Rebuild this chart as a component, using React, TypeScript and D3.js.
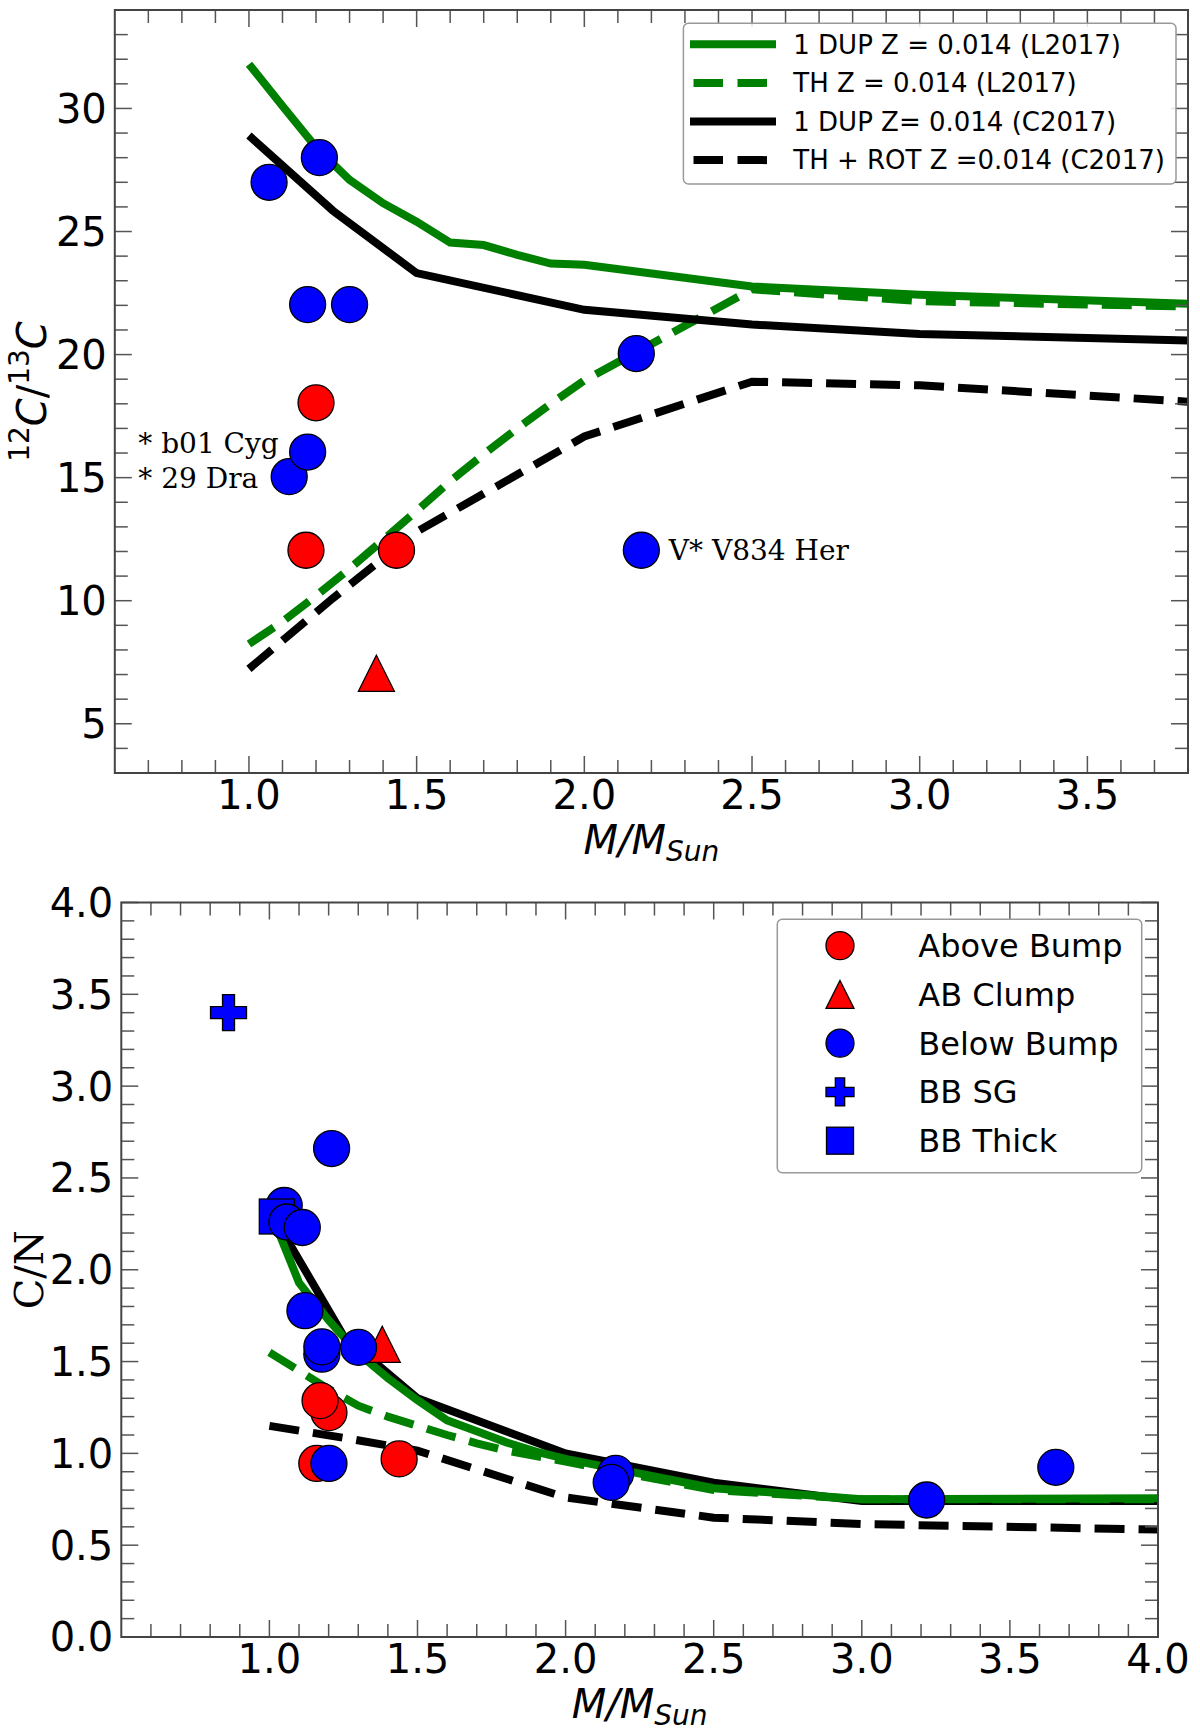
import React from 'react';
import * as d3 from 'd3';

// ---- model tracks (mass grid + values)
const l17Mass = [1.0, 1.1, 1.2, 1.3, 1.4, 1.5, 1.6, 1.7, 1.8, 1.9, 2.0, 2.5, 3.0, 4.0];
const l17DupRatio = [31.8, 30.1, 28.42, 27.1, 26.15, 25.4, 24.55, 24.45, 24.05, 23.7, 23.65, 22.77, 22.43, 21.98];
const l17ThRatio = [8.24, 9.15, 10.2, 11.3, 12.47, 13.65, 14.85, 15.95, 17.0, 18.0, 18.95, 22.65, 22.17, 21.9];
const l17DupCN = [2.33, 1.93, 1.725, 1.545, 1.41, 1.29, 1.18, 1.12, 1.06, 1.01, 0.97, 0.81, 0.75, 0.755];
const l17ThCN = [1.55, 1.45, 1.35, 1.26, 1.2, 1.15, 1.1, 1.055, 1.015, 0.985, 0.955, 0.8, 0.75, 0.75];

const c17Mass = [1.0, 1.25, 1.5, 2.0, 2.5, 3.0, 4.0];
const c17DupRatio = [28.9, 25.85, 23.31, 21.82, 21.22, 20.84, 20.5];
const c17RotRatio = [7.23, 10.1, 12.8, 16.67, 18.9, 18.75, 17.92];
const c17DupCN = [2.33, 1.64, 1.3, 1.0, 0.84, 0.74, 0.74];
const c17RotCN = [1.15, 1.085, 1.015, 0.76, 0.65, 0.615, 0.585];

const trackLabels = [
  '1 DUP Z = 0.014 (L2017)',
  'TH Z = 0.014 (L2017)',
  '1 DUP Z= 0.014 (C2017)',
  'TH + ROT Z =0.014 (C2017)',
];

// ---- stars, top panel: [mass, 12C/13C]
const topAboveBump: [number, number][] = [[1.2, 18.04], [1.17, 12.05], [1.44, 12.05]];
const topClump: [number, number][] = [[1.38, 7.05]];
const topBelowBump: [number, number][] = [
  [1.06, 27.0], [1.21, 28.0], [1.175, 22.03], [1.3, 22.03],
  [2.155, 20.04], [1.12, 15.04], [1.175, 16.04], [2.17, 12.05],
];
const topNotes = [
  { text: '* b01 Cyg', m: 0.67, v: 16.0 },
  { text: '* 29 Dra', m: 0.67, v: 14.56 },
  { text: 'V* V834 Her', m: 2.252, v: 11.66 },
];

// ---- stars, bottom panel: [mass, C/N]
const botAboveBump: [number, number][] = [[1.201, 1.222], [1.171, 1.287], [1.16, 0.945], [1.438, 0.97]];
const botClump: [number, number][] = [[1.381, 1.594]];
const botBelowBump: [number, number][] = [
  [1.05, 2.35], [1.059, 2.26], [1.111, 2.23], [1.12, 1.777], [1.177, 1.54], [1.177, 1.58],
  [1.301, 1.577], [1.21, 2.66], [1.201, 0.945], [2.169, 0.891], [2.154, 0.842],
  [3.219, 0.746], [3.655, 0.924],
];
const botSG: [number, number][] = [[0.862, 3.4]];
const botThick: [number, number][] = [[1.025, 2.29]];

const groupLabels = ['Above Bump', 'AB Clump', 'Below Bump', 'BB SG', 'BB Thick'];

const topXTicks = [1.0, 1.5, 2.0, 2.5, 3.0, 3.5];
const topYTicks = [5, 10, 15, 20, 25, 30];
const botXTicks = [1.0, 1.5, 2.0, 2.5, 3.0, 3.5, 4.0];
const botYTicks = [0, 0.5, 1.0, 1.5, 2.0, 2.5, 3.0, 3.5, 4.0];

const GREEN = '#008000';
const RED = '#ff0000';
const BLUE = '#0000ff';
const SANS = '"DejaVu Sans", sans-serif';
const SERIF = '"DejaVu Serif", serif';

type Kind = 'circle' | 'triangle' | 'plus' | 'square';

const Marker: React.FC<{ kind: Kind; x: number; y: number; s: number; fill: string }> = ({ kind, x, y, s, fill }) => {
  const h = s / 2;
  const common = { fill, stroke: '#000', strokeWidth: 1.3 };
  if (kind === 'circle') return <circle cx={x} cy={y} r={h} {...common} />;
  if (kind === 'square') return <rect x={x - h} y={y - h} width={s} height={s} {...common} />;
  if (kind === 'triangle')
    return <path d={`M${x},${y - h}L${x + h},${y + h}L${x - h},${y + h}Z`} {...common} />;
  const b = s / 6;
  return (
    <path
      d={`M${x - b},${y - h}H${x + b}V${y - b}H${x + h}V${y + b}H${x + b}V${y + h}H${x - b}V${y + b}H${x - h}V${y - b}H${x - b}Z`}
      {...common}
    />
  );
};

interface Frame {
  left: number;
  right: number;
  top: number;
  bottom: number;
}

const Axes: React.FC<{
  f: Frame;
  x: d3.ScaleLinear<number, number>;
  y: d3.ScaleLinear<number, number>;
  xMajor: number[];
  yMajor: number[];
  xMinor: number[];
  yMinor: number[];
  xFmt: (v: number) => string;
  yFmt: (v: number) => string;
}> = ({ f, x, y, xMajor, yMajor, xMinor, yMinor, xFmt, yFmt }) => {
  const tk = { stroke: '#555', strokeWidth: 1.5 };
  const maj = 17;
  const min = 13;
  return (
    <g>
      {[...xMajor.map(v => [v, maj]), ...xMinor.map(v => [v, min])].map(([v, l], i) => (
        <g key={'x' + i}>
          <line x1={x(v)} x2={x(v)} y1={f.bottom} y2={f.bottom - l} {...tk} />
          <line x1={x(v)} x2={x(v)} y1={f.top} y2={f.top + l} {...tk} />
        </g>
      ))}
      {[...yMajor.map(v => [v, maj]), ...yMinor.map(v => [v, min])].map(([v, l], i) => (
        <g key={'y' + i}>
          <line y1={y(v)} y2={y(v)} x1={f.left} x2={f.left + l} {...tk} />
          <line y1={y(v)} y2={y(v)} x1={f.right} x2={f.right - l} {...tk} />
        </g>
      ))}
      <rect x={f.left} y={f.top} width={f.right - f.left} height={f.bottom - f.top} fill="none" stroke="#444" strokeWidth={2} />
      {xMajor.map(v => (
        <text key={'xl' + v} x={x(v)} y={f.bottom + 36} textAnchor="middle" fontSize={40} fontFamily={SANS}>
          {xFmt(v)}
        </text>
      ))}
      {yMajor.map(v => (
        <text key={'yl' + v} x={f.left - 8} y={y(v)} dy="0.36em" textAnchor="end" fontSize={40} fontFamily={SANS}>
          {yFmt(v)}
        </text>
      ))}
      <text x={(f.left + f.right) / 2} y={f.bottom + 81} textAnchor="middle" fontFamily={SANS} fontStyle="italic" fontSize={40}>
        M/M<tspan fontSize={28} dy={7}>Sun</tspan>
      </text>
    </g>
  );
};

const minorRange = (lo: number, hi: number, step: number, major: number[]) =>
  d3
    .range(Math.round(lo / step), Math.round(hi / step) + 1)
    .map(k => +(k * step).toFixed(3))
    .filter(v => !major.some(m => Math.abs(m - v) < 1e-6));

const App: React.FC = () => {
  // ---------- top panel
  const ft: Frame = { left: 114.8, right: 1188, top: 10, bottom: 773 };
  const xt = d3.scaleLinear().domain([0.6, 3.8]).range([ft.left, ft.right]);
  const yt = d3.scaleLinear().domain([3, 34]).range([ft.bottom, ft.top]);

  // ---------- bottom panel
  const fb: Frame = { left: 121.3, right: 1158, top: 902.5, bottom: 1637 };
  const xb = d3.scaleLinear().domain([0.5, 4.0]).range([fb.left, fb.right]);
  const yb = d3.scaleLinear().domain([0, 4]).range([fb.bottom, fb.top]);

  const lineT = (xs: number[], ys: number[]) =>
    d3.line<number>().x((_, i) => xt(xs[i])).y(v => yt(v))(ys) || '';
  const lineB = (xs: number[], ys: number[]) =>
    d3.line<number>().x((_, i) => xb(xs[i])).y(v => yb(v))(ys) || '';

  const lw = 8;
  const dash = '30 14';

  const topTracks = [
    { d: lineT(l17Mass, l17DupRatio), color: GREEN, dash: undefined },
    { d: lineT(l17Mass, l17ThRatio), color: GREEN, dash },
    { d: lineT(c17Mass, c17DupRatio), color: '#000', dash: undefined },
    { d: lineT(c17Mass, c17RotRatio), color: '#000', dash },
  ];
  const botTracks = [
    { d: lineB(c17Mass, c17DupCN), color: '#000', dash: undefined },
    { d: lineB(c17Mass, c17RotCN), color: '#000', dash },
    { d: lineB(l17Mass, l17DupCN), color: GREEN, dash: undefined },
    { d: lineB(l17Mass, l17ThCN), color: GREEN, dash },
  ];

  const S = 36;
  const legendKinds: { kind: Kind; color: string }[] = [
    { kind: 'circle', color: RED },
    { kind: 'triangle', color: RED },
    { kind: 'circle', color: BLUE },
    { kind: 'plus', color: BLUE },
    { kind: 'square', color: BLUE },
  ];
  const legendTrackStyle = [
    { color: GREEN, dash: false },
    { color: GREEN, dash: true },
    { color: '#000', dash: false },
    { color: '#000', dash: true },
  ];

  return (
    <svg width={1200} height={1735} style={{ position: 'absolute', left: 0, top: 0, background: '#fff' }}>
      <defs>
        <clipPath id="clipTop">
          <rect x={ft.left} y={ft.top} width={ft.right - ft.left} height={ft.bottom - ft.top} />
        </clipPath>
        <clipPath id="clipBot">
          <rect x={fb.left} y={fb.top} width={fb.right - fb.left} height={fb.bottom - fb.top} />
        </clipPath>
      </defs>

      {/* ===== top panel ===== */}
      <g clipPath="url(#clipTop)">
        {topTracks.map((t, i) => (
          <path key={i} d={t.d} fill="none" stroke={t.color} strokeWidth={lw} strokeDasharray={t.dash} />
        ))}
      </g>
      <Axes
        f={ft}
        x={xt}
        y={yt}
        xMajor={topXTicks}
        yMajor={topYTicks}
        xMinor={minorRange(0.7, 3.7, 0.1, topXTicks)}
        yMinor={minorRange(4, 33, 1, topYTicks)}
        xFmt={d3.format('.1f')}
        yFmt={d3.format('d')}
      />
      {topAboveBump.map(([m, v], i) => <Marker key={'ta' + i} kind="circle" x={xt(m)} y={yt(v)} s={S} fill={RED} />)}
      {topClump.map(([m, v], i) => <Marker key={'tc' + i} kind="triangle" x={xt(m)} y={yt(v)} s={S} fill={RED} />)}
      {topBelowBump.map(([m, v], i) => <Marker key={'tb' + i} kind="circle" x={xt(m)} y={yt(v)} s={S} fill={BLUE} />)}
      {topNotes.map(n => (
        <text key={n.text} x={xt(n.m)} y={yt(n.v)} fontFamily={SERIF} fontSize={28}>
          {n.text}
        </text>
      ))}
      <text transform={`translate(46,${(ft.top + ft.bottom) / 2}) rotate(-90)`} textAnchor="middle" fontFamily={SANS} fontSize={40}>
        <tspan fontSize={28} dy={-17}>12</tspan>
        <tspan fontStyle="italic" dy={17}>C</tspan>
        <tspan>/</tspan>
        <tspan fontSize={28} dy={-17}>13</tspan>
        <tspan fontStyle="italic" dy={17}>C</tspan>
      </text>

      {/* top legend */}
      <g>
        <rect x={683.4} y={23.3} width={492.6} height={160.7} rx={5} fill="#fff" fillOpacity={0.85} stroke="#999" strokeWidth={1.5} />
        {trackLabels.map((lab, i) => {
          const cy = 44.3 + i * 38.6;
          const st = legendTrackStyle[i];
          return (
            <g key={lab}>
              <line
                x1={st.dash ? 693.5 : 690}
                x2={st.dash ? 767 : 776}
                y1={cy}
                y2={cy}
                stroke={st.color}
                strokeWidth={lw}
                strokeDasharray={st.dash ? '29.5 14.5' : undefined}
              />
              <text x={793.3} y={cy + 9.3} fontFamily={SANS} fontSize={26}>
                {lab}
              </text>
            </g>
          );
        })}
      </g>

      {/* ===== bottom panel ===== */}
      <g clipPath="url(#clipBot)">
        {botTracks.map((t, i) => (
          <path key={i} d={t.d} fill="none" stroke={t.color} strokeWidth={lw} strokeDasharray={t.dash} />
        ))}
      </g>
      <Axes
        f={fb}
        x={xb}
        y={yb}
        xMajor={botXTicks}
        yMajor={botYTicks}
        xMinor={minorRange(0.6, 3.9, 0.1, botXTicks)}
        yMinor={minorRange(0.1, 3.9, 0.1, botYTicks)}
        xFmt={d3.format('.1f')}
        yFmt={d3.format('.1f')}
      />
      {botAboveBump.map(([m, v], i) => <Marker key={'ba' + i} kind="circle" x={xb(m)} y={yb(v)} s={S} fill={RED} />)}
      {botClump.map(([m, v], i) => <Marker key={'bc' + i} kind="triangle" x={xb(m)} y={yb(v)} s={S} fill={RED} />)}
      {botBelowBump.slice(0, 1).map(([m, v], i) => <Marker key={'bb0' + i} kind="circle" x={xb(m)} y={yb(v)} s={S} fill={BLUE} />)}
      {botThick.map(([m, v], i) => <Marker key={'bt' + i} kind="square" x={xb(m)} y={yb(v)} s={35} fill={BLUE} />)}
      {botBelowBump.slice(1).map(([m, v], i) => <Marker key={'bb' + i} kind="circle" x={xb(m)} y={yb(v)} s={S} fill={BLUE} />)}
      {botSG.map(([m, v], i) => <Marker key={'bs' + i} kind="plus" x={xb(m)} y={yb(v)} s={S} fill={BLUE} />)}
      <text transform={`translate(43,${(fb.top + fb.bottom) / 2}) rotate(-90)`} textAnchor="middle" fontFamily={SERIF} fontSize={40}>
        C/N
      </text>

      {/* bottom legend */}
      <g>
        <rect x={777.3} y={919.3} width={364.4} height={253.4} rx={5} fill="#fff" fillOpacity={0.85} stroke="#999" strokeWidth={1.5} />
        {groupLabels.map((lab, i) => {
          const cy = 945.7 + i * 48.75;
          const k = legendKinds[i];
          return (
            <g key={lab}>
              <Marker kind={k.kind} x={840} y={cy} s={k.kind === 'square' ? 27 : 28} fill={k.color} />
              <text x={918.3} y={cy + 11.5} fontFamily={SANS} fontSize={32}>
                {lab}
              </text>
            </g>
          );
        })}
      </g>
    </svg>
  );
};

export default App;
